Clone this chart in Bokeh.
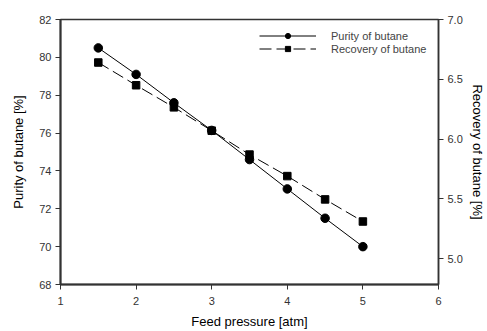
from bokeh.plotting import figure
from bokeh.models import (Range1d, LinearAxis, FixedTicker, PrintfTickFormatter,
                          Legend, LegendItem)
from bokeh.embed import file_html
from bokeh.resources import INLINE

pressure = [1.5, 2.0, 2.5, 3.0, 3.5, 4.0, 4.5, 5.0]
purity = [80.5, 79.1, 77.6, 76.14, 74.6, 73.05, 71.5, 70.0]
recovery = [6.64, 6.45, 6.265, 6.07, 5.87, 5.69, 5.495, 5.31]

x_ticks = [1, 2, 3, 4, 5, 6]
left_ticks = [68, 70, 72, 74, 76, 78, 80, 82]
right_ticks = [5.0, 5.5, 6.0, 6.5, 7.0]

FONT = "Liberation Sans"

p = figure(width=487, height=331, output_backend="svg", toolbar_location=None,
           x_range=Range1d(1, 6), y_range=Range1d(68, 82),
           min_border_left=60, min_border_right=49, min_border_top=19,
           min_border_bottom=46)
p.grid.visible = False
p.outline_line_color = "#333333"
p.outline_line_width = 1.5

p.extra_y_ranges = {"rec": Range1d(4.783, 7.0)}
raxis = LinearAxis(y_range_name="rec", ticker=FixedTicker(ticks=right_ticks),
                   formatter=PrintfTickFormatter(format="%.1f"),
                   axis_label="Recovery of butane [%]")
p.add_layout(raxis, "right")

p.xaxis.ticker = FixedTicker(ticks=x_ticks)
p.yaxis[0].ticker = FixedTicker(ticks=left_ticks)
p.xaxis.axis_label = "Feed pressure [atm]"
p.yaxis[0].axis_label = "Purity of butane [%]"

for ax in [p.xaxis[0], p.yaxis[0], raxis]:
    ax.major_tick_in = 0
    ax.major_tick_out = 5
    ax.minor_tick_out = 0
    ax.minor_tick_in = 0
    ax.axis_line_color = "#333333"
    ax.major_tick_line_color = "#333333"
    ax.major_label_text_font = FONT
    ax.major_label_text_font_size = "11px"
    ax.major_label_text_color = "#333333"
    ax.major_label_standoff = 4
    ax.axis_label_text_font = FONT
    ax.axis_label_text_font_size = "13px"
    ax.axis_label_text_font_style = "normal"
    ax.axis_label_text_color = "#000000"
p.xaxis[0].axis_line_width = 2
p.yaxis[0].axis_line_width = 2
raxis.axis_line_width = 1.5
p.xaxis[0].major_label_standoff = 7
p.xaxis[0].axis_label_standoff = 6
p.yaxis[0].axis_label_standoff = 10
raxis.axis_label_standoff = 4

l1 = p.line(pressure, purity, line_color="black", line_width=1)
m1 = p.scatter(pressure, purity, marker="circle", size=8.5, fill_color="black",
               line_color="black")
l2 = p.line(pressure, recovery, y_range_name="rec", line_color="black",
            line_width=1, line_dash="12 5")
m2 = p.scatter(pressure, recovery, y_range_name="rec", marker="square", size=7.5,
               fill_color="black", line_color="black")

legend = Legend(items=[LegendItem(label="Purity of butane", renderers=[l1, m1]),
                       LegendItem(label="Recovery of butane", renderers=[l2, m2])],
                location=(199, 229), border_line_color=None,
                background_fill_alpha=0, glyph_width=57, glyph_height=13,
                label_height=13, spacing=0, padding=5,
                label_text_font=FONT, label_text_font_size="11px",
                label_standoff=15)
p.add_layout(legend)

open("out.html", "w").write(file_html(p, INLINE))
